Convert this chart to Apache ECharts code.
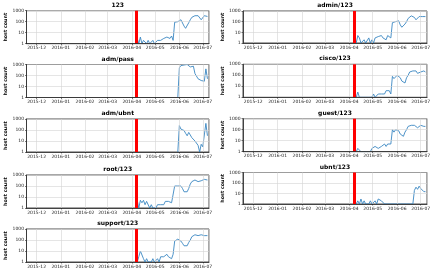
<!DOCTYPE html>
<html>
<head>
<meta charset="utf-8">
<script src="https://cdn.jsdelivr.net/npm/echarts@6/dist/echarts.min.js"></script>
<style>
  html, body { margin: 0; padding: 0; background: #fff; }
  #chart { width: 436px; height: 269px; }
</style>
</head>
<body>
<div id="chart"></div>
<script>
// sample dates (every 2 days), values are host counts per day
const dates = [
  '2016-04-08', '2016-04-10', '2016-04-12', '2016-04-14', '2016-04-16', '2016-04-18',
  '2016-04-20', '2016-04-22', '2016-04-24', '2016-04-26', '2016-04-28', '2016-04-30',
  '2016-05-02', '2016-05-04', '2016-05-06', '2016-05-08', '2016-05-10', '2016-05-12',
  '2016-05-14', '2016-05-16', '2016-05-18', '2016-05-20', '2016-05-22', '2016-05-24',
  '2016-05-26', '2016-05-28', '2016-05-30', '2016-06-01', '2016-06-03', '2016-06-05',
  '2016-06-07', '2016-06-09', '2016-06-11', '2016-06-13', '2016-06-15', '2016-06-17',
  '2016-06-19', '2016-06-21', '2016-06-23', '2016-06-25', '2016-06-27', '2016-06-29',
  '2016-07-01', '2016-07-03', '2016-07-05', '2016-07-07'
]

const eventDate = '2016-04-07'
const yTicks = [1, 10, 100, 1000]

const s123 = [3, 1, 4, 1, 2, 3, 1, 2, 1, 1, 2, 1,
  1, 2, 3, 2, 2, 3, 3, 4, 3, 3, 5, 2,
  90, 70, 100, 120, 150, 100, 40, 25, 30, 80, 150, 250, 300, 350, 400, 350, 300, 150, 200, 350, 350, 300]
const sAdmin123 = [4, 1, 5, 3, 1, 1, 2, 1, 1, 3, 1, 2,
  1, 3, 2, 4, 3, 5, 3, 4, 2, 5, 4, 3,
  80, 70, 100, 150, 120, 50, 30, 25, 60, 100, 200, 300, 350, 300, 250, 150, 180, 300, 350, 300, 350, 300]
const sAdmPass = [null, null, null, null, null, null, null, null, null, null, null, null,
  null, null, null, null, null, null, null, null, null, null, null, null,
  null, null, 1, 500, 800, 1000, 900, 1000, 1000, 800, 600, 900, 700, 150, 100, 50, 40, 35, 30, 30, 400, 50]
const sCisco123 = [2, 1, 3, 1, 1, 1, 1, 1, 1, 1, 1, 1,
  2, 1, 1, 2, 3, 2, 3, 2, 4, 3, 4, 2,
  80, 50, 70, 100, 150, 60, 30, 25, 20, 60, 100, 200, 250, 250, 300, 250, 150, 120, 200, 250, 250, 200]
const sAdmUbnt = [null, null, null, null, null, null, null, null, null, null, null, null,
  null, null, null, null, null, null, null, null, null, null, null, null,
  null, null, 1, 250, 120, 100, 90, 50, 30, 60, 35, 20, 15, 10, 8, 4, 1, 5, 3, 3, 400, 30]
const sGuest123 = [2, 1, 2, 2, 1, 1, 1, 1, 1, 1, 1, 2,
  2, 3, 2, 2, 3, 3, 4, 5, 3, 5, 4, 5,
  100, 60, 100, 150, 80, 40, 30, 25, 60, 100, 200, 250, 250, 300, 250, 200, 150, 200, 250, 250, 200, 200]
const sRoot123 = [5, 1, 5, 3, 5, 2, 4, 3, 1, 2, 1, 1,
  1, 2, 3, 2, 3, 2, 4, 5, 4, 5, 3, 2,
  100, 80, 100, 150, 100, 60, 30, 40, 30, 60, 150, 250, 300, 350, 300, 250, 200, 300, 400, 400, 350, 350]
const sUbnt123 = [2, 1, 2, 1, 3, 1, 2, 1, 1, 1, 2, 1,
  1, 2, 1, 3, 2, 2, 3, 1, 1, 1, 1, 1,
  1, 1, 1, 1, 1, 1, 1, 1, 1, 1, 1, 1, 1, 1, 20, 40, 25, 50, 30, 40, 15, 15]
const sSupport123 = [1, 3, 10, 8, 2, 1, 2, 1, 1, 1, 2, 1,
  1, 2, 1, 3, 2, 3, 2, 5, 3, 4, 2, 5,
  80, 100, 120, 150, 80, 50, 30, 25, 30, 60, 100, 200, 250, 300, 300, 250, 200, 300, 300, 250, 250, 250]

// panel layout: [title, values, left, top, width, height]
const panels = [
  ['123', s123, 26.5, 10.7, 182.5, 33],
  ['adm/pass', sAdmPass, 26.5, 64.5, 182.5, 33],
  ['adm/ubnt', sAdmUbnt, 26.5, 119, 182.5, 33],
  ['root/123', sRoot123, 26.5, 175, 182.5, 33],
  ['support/123', sSupport123, 26.5, 229, 182.5, 33],
  ['admin/123', sAdmin123, 243, 11, 184, 32],
  ['cisco/123', sCisco123, 243, 64.3, 184, 33],
  ['guest/123', sGuest123, 243, 118.7, 184, 33],
  ['ubnt/123', sUbnt123, 243, 172.5, 184, 31.5]
]

const FONT = 'DejaVu Sans'
const DAY = 24 * 3600 * 1000

const chart = echarts.init(document.getElementById('chart'))

const option = {
  animation: false,
  textStyle: { fontFamily: FONT },
  title: panels.map(p => ({
    text: p[0],
    left: p[2] + p[4] / 2,
    top: p[3] - 8.5,
    padding: 0,
    textAlign: 'center',
    textStyle: { fontSize: 6, fontWeight: 'bold', color: '#000', fontFamily: FONT }
  })),
  grid: panels.map(p => ({
    left: p[2], top: p[3], width: p[4], height: p[5],
    show: true, borderColor: '#222', borderWidth: 0.8, backgroundColor: '#fff'
  })),
  xAxis: panels.map((p, i) => ({
    type: 'time',
    gridIndex: i,
    min: '2015-11-18',
    max: '2016-07-09',
    minInterval: 28 * DAY,
    maxInterval: 31 * DAY,
    z: 5,
    axisLine: { show: true, onZero: false, lineStyle: { color: '#222', width: 0.8 } },
    axisTick: { show: true, length: 1.5, lineStyle: { color: '#222', width: 0.6 } },
    axisLabel: {
      fontSize: 4.5, color: '#222', margin: 2, hideOverlap: false,
      showMinLabel: false, showMaxLabel: false,
      formatter: '{yyyy}-{MM}'
    },
    splitLine: { show: true, lineStyle: { color: '#d4d4d4', width: 0.6 } }
  })),
  yAxis: panels.map((p, i) => ({
    type: 'log',
    logBase: 10,
    gridIndex: i,
    min: yTicks[0],
    max: yTicks[yTicks.length - 1],
    z: 5,
    name: 'host count',
    nameLocation: 'middle',
    nameGap: 13.5,
    nameTextStyle: { fontSize: 4.8, fontWeight: 'bold', color: '#000', fontFamily: FONT },
    axisLine: { show: true, lineStyle: { color: '#222', width: 0.8 } },
    axisTick: { show: true, length: 1.5, lineStyle: { color: '#222', width: 0.6 } },
    axisLabel: {
      fontSize: 4.5, color: '#222', margin: 2.5,
      formatter: v => String(Math.round(v))
    },
    splitLine: { show: true, lineStyle: { color: '#d4d4d4', width: 0.6 } }
  })),
  series: panels.map((p, i) => ({
    type: 'line',
    xAxisIndex: i,
    yAxisIndex: i,
    data: dates.map((d, k) => [d, p[1][k]]),
    showSymbol: false,
    connectNulls: false,
    z: 2,
    lineStyle: { color: '#3a87c2', width: 0.9 },
    markLine: {
      silent: true,
      symbol: 'none',
      label: { show: false },
      lineStyle: { color: '#ff0000', width: 3, type: 'solid' },
      data: [{ xAxis: eventDate }]
    }
  }))
}

chart.setOption(option)
</script>
</body>
</html>
